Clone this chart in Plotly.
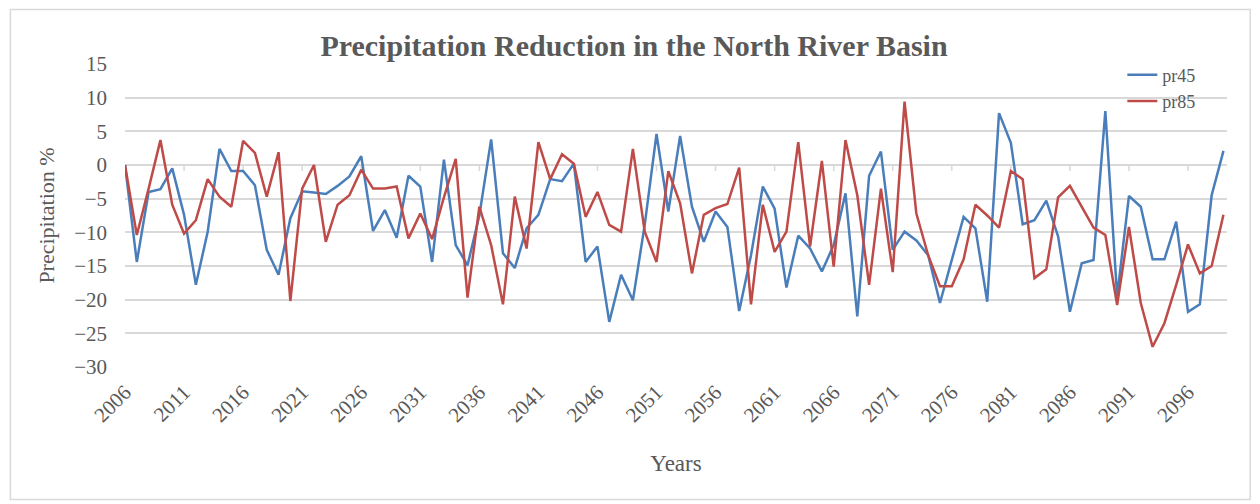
import plotly.graph_objects as go

years = list(range(2006, 2100))

pr45 = [0.0, -14.4, -4.0, -3.6, -0.5, -7.4, -17.8, -9.9, 2.4, -0.9,
        -0.9, -3.0, -12.6, -16.3, -7.9, -3.9, -4.1, -4.3, -3.1, -1.7,
        1.3, -9.8, -6.7, -10.8, -1.6, -3.2, -14.4, 0.8, -11.9, -14.9,
        -7.5, 3.8, -13.1, -15.3, -9.4, -7.4, -2.1, -2.4, 0.2, -14.4,
        -12.1, -23.3, -16.3, -20.1, -8.9, 4.6, -6.9, 4.3, -6.2, -11.4,
        -6.9, -9.2, -21.7, -13.4, -3.2, -6.5, -18.2, -10.5, -12.4, -15.8,
        -11.9, -4.2, -22.5, -1.6, 2.0, -12.6, -9.9, -11.2, -13.4, -20.5,
        -14.1, -7.7, -9.4, -20.3, 7.7, 3.3, -8.8, -8.2, -5.3, -10.6,
        -21.8, -14.6, -14.1, 8.0, -19.5, -4.6, -6.2, -14.0, -14.0, -8.4,
        -21.8, -20.7, -4.5, 2.1]

pr85 = [0.0, -10.4, -3.5, 3.7, -5.9, -10.2, -8.2, -2.1, -4.7, -6.2,
        3.6, 1.8, -4.7, 1.9, -20.2, -3.5, 0.0, -11.4, -5.9, -4.5,
        -0.7, -3.5, -3.5, -3.2, -10.9, -7.2, -11.0, -4.8, 0.9, -19.7,
        -6.2, -11.9, -20.7, -4.7, -12.4, 3.4, -2.1, 1.6, 0.2, -7.7,
        -4.0, -8.9, -9.9, 2.4, -9.9, -14.4, -0.9, -5.7, -16.1, -7.4,
        -6.4, -5.8, -0.4, -20.7, -5.9, -12.9, -9.9, 3.4, -12.1, 0.6,
        -15.1, 3.7, -4.5, -17.8, -3.5, -15.9, 9.4, -7.2, -13.4, -18.0,
        -18.0, -14.0, -5.9, -7.5, -9.3, -0.9, -2.1, -16.8, -15.5, -4.8,
        -3.1, -6.2, -9.3, -10.4, -20.8, -9.2, -20.5, -27.0, -23.5, -17.8,
        -11.8, -16.1, -15.0, -7.4]

tick_years = list(range(2006, 2100, 5))
y_ticks = list(range(-30, 16, 5))

FONT = "Liberation Serif"
GREY = "#595959"

fig = go.Figure()
fig.add_trace(go.Scatter(x=years, y=pr45, mode="lines", name="pr45",
                         line=dict(color="#4A7EBB", width=2.5)))
fig.add_trace(go.Scatter(x=years, y=pr85, mode="lines", name="pr85",
                         line=dict(color="#BE4B48", width=2.5)))

# category axis tick marks at y = 0 (axis crosses at zero)
for yr in tick_years:
    fig.add_shape(type="line", xref="x", yref="y", x0=yr, x1=yr, y0=0, y1=-0.9,
                  line=dict(color="#D9D9D9", width=1.5), layer="below")

# chart border
fig.add_shape(type="rect", xref="paper", yref="paper",
              x0=-0.104, x1=1.021, y0=-0.437, y1=1.18,
              line=dict(color="#D9D9D9", width=1.5))

fig.update_layout(
    width=1252, height=496,
    margin=dict(l=117, r=33, t=56, b=137),
    paper_bgcolor="white", plot_bgcolor="white",
    font=dict(family=FONT, color=GREY, size=21),
    title=dict(text="<b>Precipitation Reduction in the North River Basin</b>",
               x=0.5, xanchor="center", y=0.925, yanchor="middle",
               yref="container",
               font=dict(family=FONT, size=30, color=GREY)),
    showlegend=True,
    legend=dict(x=0.905, y=1.025, xanchor="left", yanchor="top",
                bgcolor="rgba(0,0,0,0)", font=dict(size=18, color=GREY),
                tracegroupgap=0, itemwidth=30),
    xaxis=dict(range=[2006, 2099.3], tickmode="array", tickvals=tick_years,
               ticktext=[str(t) for t in tick_years], tickangle=-45,
               automargin=False, ticklabelstandoff=8,
               showgrid=False, zeroline=False, showline=False, ticks="",
               tickfont=dict(size=21, color=GREY),
               title=dict(text="Years", font=dict(size=23, color=GREY), standoff=28)),
    yaxis=dict(range=[-30, 15], tickmode="array", tickvals=y_ticks,
               automargin=False, ticklabelstandoff=17,
               showgrid=True, gridcolor="#D9D9D9", gridwidth=1.5,
               zeroline=False, showline=False, ticks="",
               tickfont=dict(size=21, color=GREY),
               title=dict(text="Precipitation %", font=dict(size=22, color=GREY), standoff=13)),
)

fig.write_html("out.html")
